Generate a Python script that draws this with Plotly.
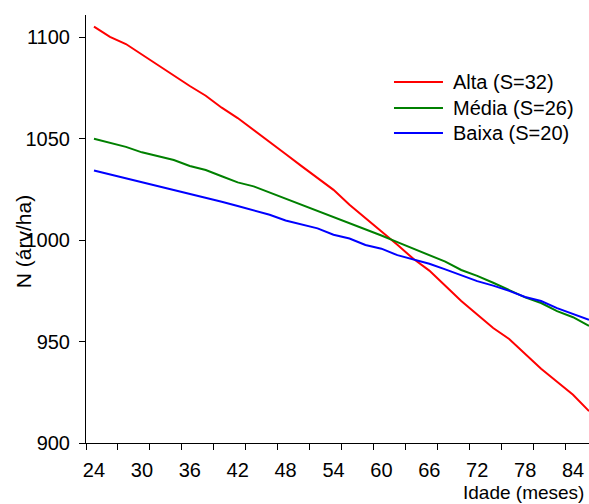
import plotly.graph_objects as go

# Idade (meses) and number of trees per hectare for three site classes
idade = [24, 26, 28, 30, 32, 34, 36, 38, 40, 42, 44, 46, 48, 50, 52, 54,
         56, 58, 60, 62, 64, 66, 68, 70, 72, 74, 76, 78, 80, 82, 84, 86]

alta = [1105.3, 1100.2, 1096.7, 1091.5, 1086.5, 1081.4, 1076.0, 1071.2,
        1065.3, 1060.2, 1054.4, 1048.5, 1042.5, 1036.5, 1030.8, 1024.8,
        1017.5, 1011.0, 1004.3, 997.7, 990.8, 985.0, 977.5, 970.0,
        963.4, 956.7, 951.3, 943.7, 936.6, 930.2, 923.8, 915.7]

media = [1050.0, 1048.0, 1046.0, 1043.3, 1041.5, 1039.5, 1036.6, 1034.6,
         1031.5, 1028.5, 1026.5, 1023.5, 1020.3, 1017.4, 1014.3, 1011.3,
         1008.2, 1005.3, 1002.3, 999.0, 995.8, 992.6, 989.4, 985.3,
         982.4, 979.0, 975.3, 971.8, 969.0, 965.0, 962.0, 957.7]

baixa = [1034.3, 1032.4, 1030.5, 1028.6, 1026.7, 1024.8, 1022.8, 1020.9,
         1018.9, 1016.8, 1014.8, 1012.5, 1009.7, 1007.8, 1005.8, 1002.7,
         1000.8, 997.6, 995.8, 992.6, 990.5, 988.4, 985.6, 982.8,
         979.8, 977.6, 975.0, 972.0, 970.0, 966.5, 963.7, 960.7]

nomes = ["Alta (S=32)", "Média (S=26)", "Baixa (S=20)"]
cores = ["#FF0000", "#008000", "#0000FF"]

x_labels = [24, 30, 36, 42, 48, 54, 60, 66, 72, 78, 84]
y_labels = [900, 950, 1000, 1050, 1100]

FONT = "Liberation Sans, Arial, sans-serif"

fig = go.Figure()
for serie, nome, cor in zip([alta, media, baixa], nomes, cores):
    fig.add_trace(go.Scatter(
        x=idade, y=serie, mode="lines", name=nome,
        line=dict(color=cor, width=2), showlegend=False,
    ))

# Legend drawn as line samples + text
legend_rows = [0.8435, 0.7827, 0.7243]
for nome, cor, yr in zip(nomes, cores, legend_rows):
    fig.add_shape(type="line", xref="paper", yref="paper",
                  x0=0.6123, x1=0.7097, y0=yr, y1=yr,
                  line=dict(color=cor, width=2))
    fig.add_annotation(xref="paper", yref="paper", x=0.7256, y=yr,
                       text=nome, showarrow=False, xanchor="left",
                       yanchor="middle",
                       font=dict(family=FONT, size=20, color="black"))

# Axis titles
fig.add_annotation(xref="paper", yref="paper", x=1, y=-0.1145, xshift=-3,
                   text="Idade (meses)", showarrow=False, xanchor="right",
                   yanchor="middle",
                   font=dict(family=FONT, size=19, color="black"))
fig.add_annotation(xref="paper", yref="paper", x=-0.125, y=0.4696,
                   text="N (árv/ha)", showarrow=False, textangle=-90,
                   xanchor="center", yanchor="middle",
                   font=dict(family=FONT, size=21, color="black"))

fig.update_layout(
    width=589, height=504,
    margin=dict(l=86, r=0, t=15, b=61),
    paper_bgcolor="white", plot_bgcolor="white",
    font=dict(family=FONT, size=20, color="black"),
    xaxis=dict(
        range=[23, 86], tickmode="array", tickvals=x_labels,
        ticktext=[str(v) for v in x_labels], ticks="",
        ticklabelstandoff=9,
        showline=True, linecolor="black", linewidth=1,
        showgrid=False, zeroline=False,
        minor=dict(tickmode="linear", tick0=23, dtick=4, ticks="outside",
                   ticklen=6, tickcolor="black", tickwidth=1, showgrid=False),
        tickfont=dict(family=FONT, size=20, color="black"),
    ),
    yaxis=dict(
        range=[900, 1111], tickmode="array", tickvals=y_labels,
        ticks="outside", ticklen=6, tickcolor="black", tickwidth=1,
        ticklabelstandoff=5,
        showline=True, linecolor="black", linewidth=1,
        showgrid=False, zeroline=False,
        tickfont=dict(family=FONT, size=20, color="black"),
    ),
)

fig.write_html("out.html")
